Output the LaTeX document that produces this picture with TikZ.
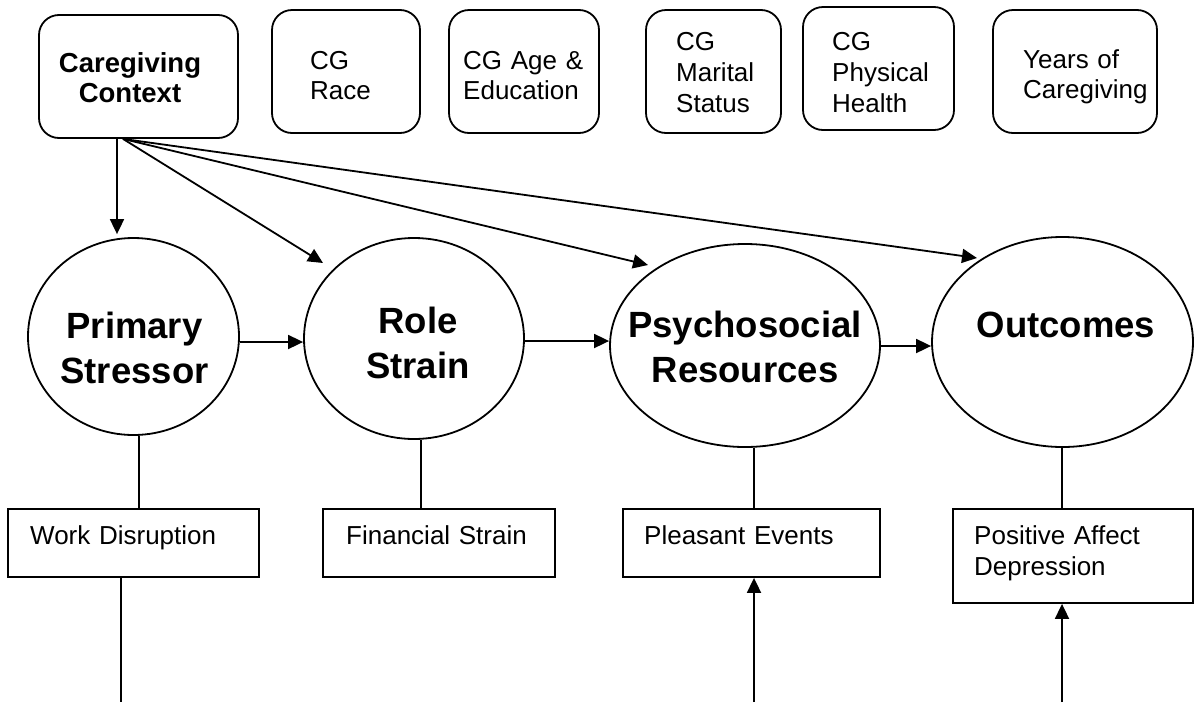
\documentclass[tikz,border=0pt]{standalone}
\usepackage{fontspec}
\setmainfont{Liberation Sans}
\usetikzlibrary{arrows.meta,shapes.geometric}

\tikzset{
  topbox/.style={draw, line width=1.8pt, rounded corners=20pt, inner sep=0pt},
  latent/.style={draw, ellipse, line width=1.8pt, inner sep=0pt},
  indbox/.style={draw, rectangle, line width=1.8pt, inner sep=0pt},
  txt/.style={font=\fontsize{26}{30}\selectfont, inner sep=0pt, anchor=base west,
    text width=200pt, align=left},
  txtwide/.style={txt, font=\fontsize{26}{31}\selectfont},
  ctxtxt/.style={font=\fontsize{27.5}{30}\selectfont\bfseries, inner sep=0pt, anchor=base,
    text width=200pt, align=center},
  bigtxt/.style={font=\fontsize{36.5}{45}\selectfont\bfseries, inner sep=0pt, anchor=base,
    text width=280pt, align=center},
  arr/.style={line width=1.8pt, -{Triangle[length=15pt,width=14pt]}},
  link/.style={line width=1.8pt},
}

\begin{document}
\begin{tikzpicture}[x=1pt,y=-1pt]
\useasboundingbox (0,0) rectangle (1194,702);

% context and background variables
\node[topbox, minimum width=199pt, minimum height=123pt] (ctx) at (138.5,76.5) {};
\node[ctxtxt] (ctxT) at (130,72) {Caregiving\\Context};
\node[topbox, minimum width=148pt, minimum height=123pt] (race) at (346,71.5) {};
\node[txt] (raceT) at (310,69) {CG\\Race};
\node[topbox, minimum width=150pt, minimum height=123pt] (age) at (524,71.5) {};
\node[txt] (ageT) at (463,69) {CG Age \&\\Education};
\node[topbox, minimum width=135pt, minimum height=123pt] (mar) at (713.5,71.5) {};
\node[txtwide] (marT) at (676,50) {CG\\Marital\\Status};
\node[topbox, minimum width=151pt, minimum height=123pt] (phy) at (878.5,68.5) {};
\node[txtwide] (phyT) at (832,50) {CG\\Physical\\Health};
\node[topbox, minimum width=164pt, minimum height=123pt] (yrs) at (1075,71.5) {};
\node[txt] (yrsT) at (1023,68) {Years of\\Caregiving};

% latent constructs
\node[latent, minimum width=211pt, minimum height=197pt] (ps) at (133.5,336.5) {};
\node[bigtxt] (psT) at (134.5,338) {Primary\\Stressor};
\node[latent, minimum width=220pt, minimum height=201pt] (rs) at (414,338.5) {};
\node[bigtxt] (rsT) at (418,333) {Role\\Strain};
\node[latent, minimum width=270pt, minimum height=203pt] (pr) at (745,345.5) {};
\node[bigtxt] (prT) at (745,337) {Psychosocial\\Resources};
\node[latent, minimum width=261pt, minimum height=210pt] (oc) at (1062.5,342) {};
\node[bigtxt] (ocT) at (1066,337) {Outcomes};

% measured indicators
\node[indbox, minimum width=251pt, minimum height=68pt] (wd) at (133.5,543) {};
\node[txt] (wdT) at (30,544) {Work Disruption};
\node[indbox, minimum width=232pt, minimum height=68pt] (fs) at (439,543) {};
\node[txt] (fsT) at (346,544) {Financial Strain};
\node[indbox, minimum width=257pt, minimum height=68pt] (pe) at (751.5,543) {};
\node[txt] (peT) at (644,544) {Pleasant Events};
\node[indbox, minimum width=240pt, minimum height=94pt] (pa) at (1073,556) {};
\node[txtwide] (paT) at (974,544) {Positive Affect\\Depression};

% paths from the caregiving context
\coordinate (ctxA) at ([xshift=-21.5pt]ctx.south);
\coordinate (fan) at ([xshift=-15.5pt]ctx.south);
\draw[arr, shorten >=3pt] (ctxA) -- (ctxA |- ps.north);
\coordinate (tRS) at ([shift={(-91,-75.5)}]rs.center);
\coordinate (tPR) at ([shift={(-97,-80.5)}]pr.center);
\coordinate (tOC) at ([shift={(-85.5,-84)}]oc.center);
\draw[arr] (fan) -- (tRS);
\draw[arr] (fan) -- (tPR);
\draw[arr] (fan) -- (tOC);

% stress process chain
\coordinate (psE) at ([yshift=-5.5pt]ps.east);
\coordinate (rsE) at ([yshift=-2.5pt]rs.east);
\coordinate (prE) at ([yshift=-0.5pt]pr.east);
\draw[arr] (psE) -- (psE -| rs.west);
\draw[arr] (rsE) -- (rsE -| pr.west);
\draw[arr] (prE) -- (prE -| oc.west);

% constructs to their indicators
\coordinate (psB) at ([xshift=5.5pt]ps.south);
\coordinate (rsB) at ([xshift=7pt]rs.south);
\coordinate (prB) at ([xshift=9pt]pr.south);
\coordinate (ocB) at ([xshift=-0.5pt]oc.south);
\draw[link] (psB) -- (psB |- wd.north);
\draw[link] (rsB) -- (rsB |- fs.north);
\draw[link] (prB) -- (prB |- pe.north);
\draw[link] (ocB) -- (ocB |- pa.north);

% lines running off the lower edge
\coordinate (wdB) at ([xshift=-12.5pt]wd.south);
\coordinate (wdEnd) at (121,702);
\draw[link] (wdB) -- (wdEnd);
\coordinate (peIn) at (754,702);
\draw[arr] (peIn) -- (peIn |- pe.south);
\coordinate (paIn) at (1062,702);
\draw[arr] (paIn) -- (paIn |- pa.south);
\end{tikzpicture}
\end{document}
